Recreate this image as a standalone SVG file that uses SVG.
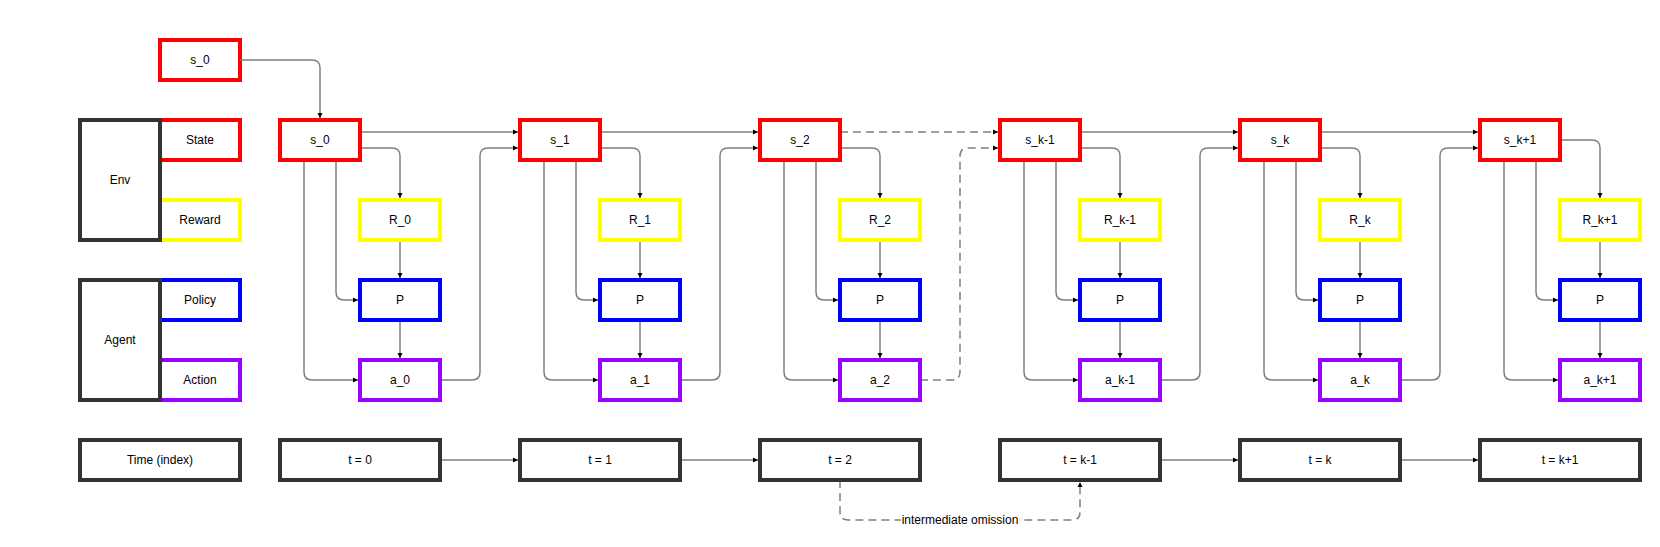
<svg xmlns="http://www.w3.org/2000/svg" width="1660" height="547" viewBox="0 0 1660 547">
<style>
.b{fill:#fff;stroke-width:4}
.red{stroke:#ff0000}.yel{stroke:#ffff00}.blu{stroke:#0000ff}.pur{stroke:#9900ff}.drk{stroke:#333333}
text{font-family:"Liberation Sans",Arial,sans-serif;font-size:12px;fill:#000;text-anchor:middle;dominant-baseline:central}
.c path{fill:none;stroke:#808080;stroke-width:1.5;marker-end:url(#ah)}
.c path.d{stroke-dasharray:8 5}
</style>
<defs>
<marker id="ah" markerUnits="userSpaceOnUse" markerWidth="6" markerHeight="6" refX="5" refY="3" orient="auto">
<path d="M0,0.5 L5,3 L0,5.5 z" fill="#000"/>
</marker>
</defs>
<rect width="1660" height="547" fill="#fff"/>
<g id="legend-state"><rect class="b red" x="160" y="120" width="80" height="40"/><text x="200" y="140">State</text></g>
<g id="legend-reward"><rect class="b yel" x="160" y="200" width="80" height="40"/><text x="200" y="220">Reward</text></g>
<g id="legend-env"><rect class="b drk" x="80" y="120" width="80" height="120"/><text x="120" y="180">Env</text></g>
<g id="legend-policy"><rect class="b blu" x="160" y="280" width="80" height="40"/><text x="200" y="300">Policy</text></g>
<g id="legend-action"><rect class="b pur" x="160" y="360" width="80" height="40"/><text x="200" y="380">Action</text></g>
<g id="legend-agent"><rect class="b drk" x="80" y="280" width="80" height="120"/><text x="120" y="340">Agent</text></g>
<g id="legend-time"><rect class="b drk" x="80" y="440" width="160" height="40"/><text x="160" y="460">Time (index)</text></g>
<g id="s0-init"><rect class="b red" x="160" y="40" width="80" height="40"/><text x="200" y="60">s_0</text></g>

<g class="c" id="connectors">
<path d="M240,60 H312 Q320,60 320,68 V118"/>
<path d="M360,148 H392 Q400,148 400,156 V198"/>
<path d="M336,160 V292 Q336,300 344,300 H358"/>
<path d="M304,160 V372 Q304,380 312,380 H358"/>
<path d="M400,240 V278"/>
<path d="M400,320 V358"/>
<path d="M360,132 H518"/>
<path d="M440,380 H472 Q480,380 480,372 V156 Q480,148 488,148 H518"/>
<path d="M440,460 H518"/>
<path d="M600,148 H632 Q640,148 640,156 V198"/>
<path d="M576,160 V292 Q576,300 584,300 H598"/>
<path d="M544,160 V372 Q544,380 552,380 H598"/>
<path d="M640,240 V278"/>
<path d="M640,320 V358"/>
<path d="M600,132 H758"/>
<path d="M680,380 H712 Q720,380 720,372 V156 Q720,148 728,148 H758"/>
<path d="M680,460 H758"/>
<path d="M840,148 H872 Q880,148 880,156 V198"/>
<path d="M816,160 V292 Q816,300 824,300 H838"/>
<path d="M784,160 V372 Q784,380 792,380 H838"/>
<path d="M880,240 V278"/>
<path d="M880,320 V358"/>
<path class="d" d="M840,132 H998"/>
<path class="d" d="M920,380 H952 Q960,380 960,372 V156 Q960,148 968,148 H998"/>
<path class="d" d="M840,480 V512 Q840,520 848,520 H1072 Q1080,520 1080,512 V482"/>
<path d="M1080,148 H1112 Q1120,148 1120,156 V198"/>
<path d="M1056,160 V292 Q1056,300 1064,300 H1078"/>
<path d="M1024,160 V372 Q1024,380 1032,380 H1078"/>
<path d="M1120,240 V278"/>
<path d="M1120,320 V358"/>
<path d="M1080,132 H1238"/>
<path d="M1160,380 H1192 Q1200,380 1200,372 V156 Q1200,148 1208,148 H1238"/>
<path d="M1160,460 H1238"/>
<path d="M1320,148 H1352 Q1360,148 1360,156 V198"/>
<path d="M1296,160 V292 Q1296,300 1304,300 H1318"/>
<path d="M1264,160 V372 Q1264,380 1272,380 H1318"/>
<path d="M1360,240 V278"/>
<path d="M1360,320 V358"/>
<path d="M1320,132 H1478"/>
<path d="M1400,380 H1432 Q1440,380 1440,372 V156 Q1440,148 1448,148 H1478"/>
<path d="M1400,460 H1478"/>
<path d="M1560,140 H1592 Q1600,140 1600,148 V198"/>
<path d="M1536,160 V292 Q1536,300 1544,300 H1558"/>
<path d="M1504,160 V372 Q1504,380 1512,380 H1558"/>
<path d="M1600,240 V278"/>
<path d="M1600,320 V358"/>
<rect x="901" y="512" width="118" height="16" fill="#fff"/>
<text x="960" y="520">intermediate omission</text>
</g>

<g id="s0"><rect class="b red" x="280" y="120" width="80" height="40"/><text x="320" y="140">s_0</text></g>
<g id="R0"><rect class="b yel" x="360" y="200" width="80" height="40"/><text x="400" y="220">R_0</text></g>
<g id="P0"><rect class="b blu" x="360" y="280" width="80" height="40"/><text x="400" y="300">P</text></g>
<g id="a0"><rect class="b pur" x="360" y="360" width="80" height="40"/><text x="400" y="380">a_0</text></g>
<g id="t0"><rect class="b drk" x="280" y="440" width="160" height="40"/><text x="360" y="460">t = 0</text></g>

<g id="s1"><rect class="b red" x="520" y="120" width="80" height="40"/><text x="560" y="140">s_1</text></g>
<g id="R1"><rect class="b yel" x="600" y="200" width="80" height="40"/><text x="640" y="220">R_1</text></g>
<g id="P1"><rect class="b blu" x="600" y="280" width="80" height="40"/><text x="640" y="300">P</text></g>
<g id="a1"><rect class="b pur" x="600" y="360" width="80" height="40"/><text x="640" y="380">a_1</text></g>
<g id="t1"><rect class="b drk" x="520" y="440" width="160" height="40"/><text x="600" y="460">t = 1</text></g>

<g id="s2"><rect class="b red" x="760" y="120" width="80" height="40"/><text x="800" y="140">s_2</text></g>
<g id="R2"><rect class="b yel" x="840" y="200" width="80" height="40"/><text x="880" y="220">R_2</text></g>
<g id="P2"><rect class="b blu" x="840" y="280" width="80" height="40"/><text x="880" y="300">P</text></g>
<g id="a2"><rect class="b pur" x="840" y="360" width="80" height="40"/><text x="880" y="380">a_2</text></g>
<g id="t2"><rect class="b drk" x="760" y="440" width="160" height="40"/><text x="840" y="460">t = 2</text></g>

<g id="skm1"><rect class="b red" x="1000" y="120" width="80" height="40"/><text x="1040" y="140">s_k-1</text></g>
<g id="Rkm1"><rect class="b yel" x="1080" y="200" width="80" height="40"/><text x="1120" y="220">R_k-1</text></g>
<g id="Pkm1"><rect class="b blu" x="1080" y="280" width="80" height="40"/><text x="1120" y="300">P</text></g>
<g id="akm1"><rect class="b pur" x="1080" y="360" width="80" height="40"/><text x="1120" y="380">a_k-1</text></g>
<g id="tkm1"><rect class="b drk" x="1000" y="440" width="160" height="40"/><text x="1080" y="460">t = k-1</text></g>

<g id="sk"><rect class="b red" x="1240" y="120" width="80" height="40"/><text x="1280" y="140">s_k</text></g>
<g id="Rk"><rect class="b yel" x="1320" y="200" width="80" height="40"/><text x="1360" y="220">R_k</text></g>
<g id="Pk"><rect class="b blu" x="1320" y="280" width="80" height="40"/><text x="1360" y="300">P</text></g>
<g id="ak"><rect class="b pur" x="1320" y="360" width="80" height="40"/><text x="1360" y="380">a_k</text></g>
<g id="tk"><rect class="b drk" x="1240" y="440" width="160" height="40"/><text x="1320" y="460">t = k</text></g>

<g id="skp1"><rect class="b red" x="1480" y="120" width="80" height="40"/><text x="1520" y="140">s_k+1</text></g>
<g id="Rkp1"><rect class="b yel" x="1560" y="200" width="80" height="40"/><text x="1600" y="220">R_k+1</text></g>
<g id="Pkp1"><rect class="b blu" x="1560" y="280" width="80" height="40"/><text x="1600" y="300">P</text></g>
<g id="akp1"><rect class="b pur" x="1560" y="360" width="80" height="40"/><text x="1600" y="380">a_k+1</text></g>
<g id="tkp1"><rect class="b drk" x="1480" y="440" width="160" height="40"/><text x="1560" y="460">t = k+1</text></g>
</svg>
